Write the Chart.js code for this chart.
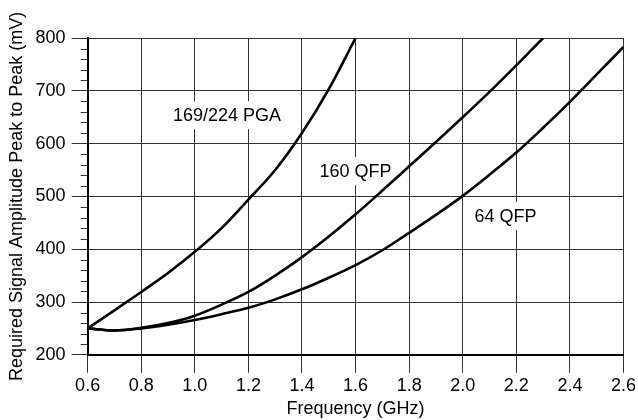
<!DOCTYPE html>
<html>
<head>
<meta charset="utf-8">
<script src="https://cdn.jsdelivr.net/npm/chart.js@4.4.0/dist/chart.umd.min.js"></script>
<style>
  html, body { margin: 0; padding: 0; background: #fff; }
</style>
</head>
<body>
<canvas id="chart" width="638" height="420"></canvas>
<script>
// frequency points (GHz)
const freqs = [0.6, 0.7, 0.8, 0.9, 1.0, 1.1, 1.2, 1.3, 1.4, 1.5, 1.6,
               1.7, 1.8, 1.9, 2.0, 2.1, 2.2, 2.3, 2.4, 2.5, 2.6];

// required signal amplitude (mV); each curve stops where it leaves the plot
const pga169 = [250, 284, 319, 355, 395, 440, 494, 550, 620, 703, 800];
const qfp160 = [250, 246, 251, 260, 274, 295, 319, 350, 385, 424, 466,
                511, 557, 603, 650, 698, 748, 800];
const qfp64  = [250, 246, 250, 257, 266, 277, 289, 305, 324, 346, 370,
                398, 431, 465, 501, 541, 583, 630, 679, 731, 783];

const seriesNames = ["169/224 PGA", "160 QFP", "64 QFP"];
// where each curve label sits, in data units (GHz, mV)
const labelFreq = [1.12, 1.6, 2.16];
const labelAmp = [654, 548, 463];

const xTicks = [0.6, 0.8, 1.0, 1.2, 1.4, 1.6, 1.8, 2.0, 2.2, 2.4, 2.6];

const toPoints = (vals) => vals.map((v, i) => ({ x: freqs[i], y: v }));

const FONT = "'Liberation Sans', Arial, sans-serif";
const GRID = "#333";

// small 20 mV ticks on the left axis
const minorTicks = {
  id: "minorTicks",
  afterDraw(chart) {
    const y = chart.scales.y;
    const ctx = chart.ctx;
    ctx.save();
    ctx.strokeStyle = GRID;
    ctx.lineWidth = 1;
    for (let v = y.min; v <= y.max; v += 20) {
      if (v % 100 === 0) continue;
      const py = Math.round(y.getPixelForValue(v)) + 0.5;
      ctx.beginPath();
      ctx.moveTo(y.right - 7, py);
      ctx.lineTo(y.right, py);
      ctx.stroke();
    }
    ctx.restore();
  }
};

// text labels on the curves, white box over the grid (curves stay on top)
const curveLabels = {
  id: "curveLabels",
  beforeDatasetsDraw(chart) {
    const ctx = chart.ctx;
    const xs = chart.scales.x, ys = chart.scales.y;
    ctx.save();
    ctx.font = "18px " + FONT;
    ctx.textAlign = "center";
    ctx.textBaseline = "middle";
    seriesNames.forEach((name, i) => {
      const px = xs.getPixelForValue(labelFreq[i]);
      const py = ys.getPixelForValue(labelAmp[i]);
      const w = ctx.measureText(name).width;
      ctx.fillStyle = "#fff";
      ctx.fillRect(px - w / 2 - 1, py - 14, w + 2, 28);
      ctx.fillStyle = "#000";
      ctx.fillText(name, px, py + 1);
    });
    ctx.restore();
  }
};

new Chart(document.getElementById("chart"), {
  type: "line",
  data: {
    datasets: [
      { label: seriesNames[0], data: toPoints(pga169) },
      { label: seriesNames[1], data: toPoints(qfp160) },
      { label: seriesNames[2], data: toPoints(qfp64) }
    ].map((d) => ({
      ...d,
      borderColor: "#000",
      borderWidth: 2.6,
      pointRadius: 0,
      fill: false,
      cubicInterpolationMode: "monotone"
    }))
  },
  options: {
    responsive: false,
    animation: false,
    layout: { padding: { left: 6, right: 3, top: 38, bottom: 0 } },
    plugins: { legend: { display: false }, tooltip: { enabled: false } },
    scales: {
      x: {
        type: "linear",
        min: 0.6,
        max: 2.6,
        afterBuildTicks: (s) => { s.ticks = xTicks.map((v) => ({ value: v })); },
        ticks: {
          autoSkip: false,
          color: "#000",
          font: { family: FONT, size: 18 },
          padding: 2,
          maxRotation: 0,
          callback: (v) => v.toFixed(1)
        },
        grid: { color: GRID, lineWidth: 1, tickLength: 18, tickColor: GRID },
        border: { color: "#000", width: 2 },
        title: {
          display: true,
          text: "Frequency (GHz)",
          color: "#000",
          font: { family: FONT, size: 18 },
          padding: { top: 0, bottom: 0 }
        }
      },
      y: {
        min: 200,
        max: 800,
        ticks: {
          stepSize: 100,
          color: "#000",
          font: { family: FONT, size: 18 },
          padding: 6
        },
        grid: { color: GRID, lineWidth: 1, tickLength: 16, tickColor: GRID },
        border: { color: "#000", width: 2 },
        title: {
          display: true,
          text: "Required Signal Amplitude Peak to Peak (mV)",
          color: "#000",
          font: { family: FONT, size: 18 },
          padding: { top: 0, bottom: 2 }
        }
      }
    }
  },
  plugins: [minorTicks, curveLabels]
});
</script>
</body>
</html>
